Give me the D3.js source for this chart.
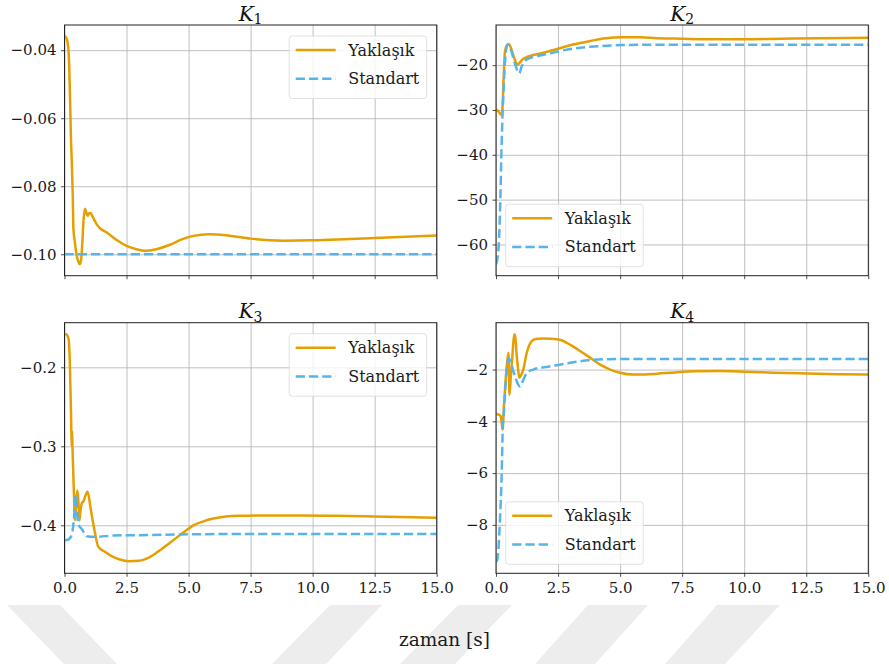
<!DOCTYPE html>
<html>
<head>
<meta charset="utf-8">
<script src="https://cdn.jsdelivr.net/npm/d3@7"></script>
<style>
  body { margin: 0; background: #fff; }
  svg { display: block; font-family: "DejaVu Serif", "Liberation Serif", serif; }
  .grid line { stroke: #b0b0b0; stroke-width: 0.8; }
  .grid path { display: none; }
  .axis path { display: none; }
  .axis line { stroke: #222; stroke-width: 0.8; }
  .axis text { font-size: 15px; fill: #1a1a1a; font-family: "DejaVu Serif", serif; }
  .frame { fill: none; stroke: #222; stroke-width: 1; }
</style>
</head>
<body>
<svg id="chart" width="889" height="664"></svg>
<script>
// shared x ticks (time in seconds)
const xTicks = [0, 2.5, 5, 7.5, 10, 12.5, 15]
const seriesNames = ["Yaklaşık", "Standart"]
const colors = ["#E69F00", "#56B4E9"]

// K1
const k1ApproxT = [0, 0.08, 0.15, 0.19, 0.23, 0.26, 0.29, 0.33, 0.36, 0.42, 0.49, 0.56, 0.62, 0.67, 0.72, 0.77, 0.83, 0.88, 0.93, 0.99, 1.05, 1.15, 1.3, 1.45, 1.7, 2.1, 2.5, 2.9, 3.3, 3.7, 4.25, 4.7, 5.2, 5.8, 6.5, 7.5, 8.8, 10.0, 11.5, 13.0, 15]
const k1Approx = [-0.0358, -0.0365, -0.039, -0.0448, -0.056, -0.066, -0.0721, -0.082, -0.0926, -0.0965, -0.1004, -0.1022, -0.1029, -0.1015, -0.0965, -0.0897, -0.0866, -0.0878, -0.0887, -0.088, -0.0879, -0.0892, -0.0912, -0.0925, -0.0936, -0.0958, -0.0975, -0.0985, -0.099, -0.0985, -0.0972, -0.0957, -0.0946, -0.0941, -0.0944, -0.0954, -0.096, -0.0959, -0.0955, -0.0951, -0.0945]
const k1StdT = [0, 5, 10, 15]
const k1Std = [-0.1, -0.1, -0.1, -0.1]
const k1Ticks = [-0.10, -0.08, -0.06, -0.04]

// K2
const k2ApproxT = [0, 0.1, 0.2, 0.25, 0.3, 0.36, 0.43, 0.5, 0.56, 0.63, 0.72, 0.8, 0.88, 0.95, 1.05, 1.2, 1.4, 1.8, 2.45, 3.1, 3.8, 4.4, 5.1, 5.8, 6.5, 7.5, 8.5, 10, 11.5, 13, 15]
const k2Approx = [-29.9, -30.3, -31.0, -30.5, -24, -17, -15.6, -15.3, -15.6, -16.6, -18.2, -19.3, -19.9, -19.5, -18.8, -18.3, -17.9, -17.4, -16.4, -15.4, -14.6, -14.0, -13.8, -13.8, -14.0, -14.1, -14.2, -14.2, -14.1, -14.0, -13.9]
const k2StdT = [0, 0.09, 0.16, 0.23, 0.3, 0.38, 0.46, 0.52, 0.6, 0.7, 0.8, 0.88, 0.94, 1.02, 1.12, 1.25, 1.5, 2.0, 2.45, 3.1, 3.8, 4.5, 5.1, 6, 8, 10, 12.5, 15]
const k2Std = [-64.4, -61.8, -53, -37, -26, -18.1, -15.6, -15.5, -16.5, -18.5, -20.3, -21.5, -21.8, -20.5, -19.4, -18.7, -18.2, -17.6, -17.0, -16.3, -15.9, -15.65, -15.5, -15.45, -15.45, -15.45, -15.45, -15.45]
const k2Ticks = [-60, -50, -40, -30, -20]

// K3
const k3ApproxT = [0, 0.06, 0.12, 0.17, 0.22, 0.27, 0.29, 0.3, 0.32, 0.38, 0.42, 0.47, 0.52, 0.56, 0.6, 0.65, 0.7, 0.76, 0.85, 0.92, 0.97, 1.05, 1.2, 1.36, 1.6, 1.9, 2.2, 2.6, 3.0, 3.4, 3.85, 4.3, 4.75, 5.2, 5.6, 6.0, 6.5, 7.0, 8.0, 9.5, 11, 12.5, 15]
const k3Approx = [-0.158, -0.158, -0.16, -0.165, -0.2, -0.27, -0.3, -0.28, -0.3, -0.36, -0.3935, -0.37, -0.356, -0.37, -0.394, -0.38, -0.372, -0.37, -0.362, -0.3577, -0.362, -0.378, -0.405, -0.427, -0.433, -0.439, -0.443, -0.4455, -0.445, -0.441, -0.4316, -0.421, -0.41, -0.4, -0.395, -0.3915, -0.389, -0.388, -0.3875, -0.3875, -0.388, -0.389, -0.3906]
const k3StdT = [0, 0.15, 0.25, 0.33, 0.4, 0.46, 0.5, 0.55, 0.62, 0.7, 0.8, 0.9, 1.05, 1.3, 2, 3, 5, 7.5, 10, 12.5, 15]
const k3Std = [-0.419, -0.418, -0.415, -0.406, -0.385, -0.362, -0.38, -0.398, -0.402, -0.405, -0.41, -0.414, -0.4145, -0.4145, -0.413, -0.4125, -0.4115, -0.411, -0.411, -0.411, -0.411]
const k3Ticks = [-0.4, -0.3, -0.2]

// K4
const k4ApproxT = [0, 0.1, 0.19, 0.27, 0.32, 0.36, 0.43, 0.5, 0.54, 0.6, 0.66, 0.73, 0.77, 0.82, 0.88, 0.94, 1.02, 1.1, 1.24, 1.44, 1.6, 1.9, 2.2, 2.6, 3.0, 3.4, 3.8, 4.2, 4.6, 5.0, 5.5, 6.0, 6.5, 7.2, 8.0, 9.0, 10, 11.2, 12.5, 13.8, 15]
const k4Approx = [-3.72, -3.74, -3.8, -4.32, -3.4, -2.8, -1.9, -1.35, -2.97, -2.24, -1.5, -0.65, -0.65, -1.3, -1.9, -2.32, -2.2, -2.0, -1.35, -0.9, -0.82, -0.8, -0.81, -0.86, -1.05, -1.29, -1.55, -1.81, -2.0, -2.12, -2.19, -2.19, -2.16, -2.11, -2.07, -2.06, -2.08, -2.12, -2.15, -2.18, -2.19]
const k4StdT = [0, 0.05, 0.1, 0.16, 0.23, 0.27, 0.32, 0.36, 0.43, 0.5, 0.54, 0.6, 0.68, 0.78, 0.88, 0.97, 1.1, 1.24, 1.5, 2.0, 2.45, 3.1, 3.8, 4.5, 5.13, 6, 8, 10, 12.5, 15]
const k4Std = [-9.42, -9.35, -8.9, -7.8, -6.0, -4.32, -3.6, -3.0, -2.0, -1.6, -1.59, -1.7, -2.0, -2.3, -2.55, -2.65, -2.4, -2.13, -2.0, -1.9, -1.83, -1.72, -1.63, -1.6, -1.59, -1.59, -1.59, -1.59, -1.59, -1.59]
const k4Ticks = [-8, -6, -4, -2]

const zip = (t, v) => t.map((x, i) => [x, v[i]])

const panels = [
  { sub: "1", box: [64.5, 25, 436.7, 275.7], yDomain: [-0.1063, -0.0326], yTicks: k1Ticks, fmt: ".2f",
    series: [zip(k1ApproxT, k1Approx), zip(k1StdT, k1Std)], legend: "ur", xLabels: false },
  { sub: "2", box: [496, 25, 868.3, 275.7], yDomain: [-66.97, -11.04], yTicks: k2Ticks, fmt: ".0f",
    series: [zip(k2ApproxT, k2Approx), zip(k2StdT, k2Std)], legend: "ll", xLabels: false },
  { sub: "3", box: [64.5, 322.7, 436.7, 573.3], yDomain: [-0.4608, -0.1435], yTicks: k3Ticks, fmt: ".1f",
    series: [zip(k3ApproxT, k3Approx), zip(k3StdT, k3Std)], legend: "ur", xLabels: true },
  { sub: "4", box: [496, 322.7, 868.3, 573.3], yDomain: [-9.87, -0.19], yTicks: k4Ticks, fmt: ".0f",
    series: [zip(k4ApproxT, k4Approx), zip(k4StdT, k4Std)], legend: "ll", xLabels: true }
]

const svg = d3.select("#chart")

// faint watermark strokes at the bottom of the page
const marks = [
  [[7, 605], [60, 605], [117, 664], [64, 664]],
  [[330, 605], [382, 605], [326, 664], [272, 664]],
  [[458, 605], [512, 605], [455, 664], [400, 664]],
  [[588, 605], [648, 605], [595, 664], [535, 664]],
  [[717, 605], [780, 605], [725, 664], [665, 664]]
]
svg.append("g").selectAll("path").data(marks).join("path")
  .attr("d", (d) => "M" + d.join("L") + "Z")
  .attr("fill", "#ededed")

panels.forEach((p, pi) => {
  const [x0, y0, x1, y1] = p.box
  const w = x1 - x0, h = y1 - y0
  const x = d3.scaleLinear().domain([0, 15]).range([0, w])
  const y = d3.scaleLinear().domain(p.yDomain).range([h, 0])
  const g = svg.append("g").attr("transform", `translate(${x0},${y0})`)

  g.append("g").attr("class", "grid")
    .call(d3.axisBottom(x).tickValues(xTicks).tickSize(h).tickFormat(""))
  g.append("g").attr("class", "grid")
    .call(d3.axisLeft(y).tickValues(p.yTicks).tickSize(-w).tickFormat(""))

  const clipId = "clip" + pi
  g.append("clipPath").attr("id", clipId)
    .append("rect").attr("width", w).attr("height", h)

  const line = d3.line().x((d) => x(d[0])).y((d) => y(d[1])).curve(d3.curveMonotoneX)
  p.series.forEach((s, si) => {
    g.append("path")
      .attr("clip-path", `url(#${clipId})`)
      .attr("d", line(s))
      .attr("fill", "none")
      .attr("stroke", colors[si])
      .attr("stroke-width", 2.5)
      .attr("stroke-linejoin", "round")
      .attr("stroke-dasharray", si === 1 ? "9.25,4" : null)
  })

  g.append("rect").attr("class", "frame").attr("width", w).attr("height", h)

  const xa = g.append("g").attr("class", "axis").attr("transform", `translate(0,${h})`)
    .call(d3.axisBottom(x).tickValues(xTicks).tickSize(3.5).tickPadding(5)
      .tickFormat(p.xLabels ? d3.format(".1f") : ""))
  xa.selectAll("text").attr("dy", "0.78em")
  g.append("g").attr("class", "axis")
    .call(d3.axisLeft(y).tickValues(p.yTicks).tickSize(3.5).tickPadding(4.5).tickFormat(d3.format(p.fmt)))

  // title K_n
  const t = g.append("text").attr("x", w / 2).attr("y", -4.5).attr("text-anchor", "middle")
    .attr("font-size", 20).attr("fill", "#111")
  t.append("tspan").attr("font-style", "italic").text("K")
  t.append("tspan").attr("font-size", 14).attr("dy", 3.5).text(p.sub)

  // legend
  const lw = 137.5, lh = 62.5
  const lx = p.legend === "ur" ? w - 10 - lw : 9.7
  const ly = p.legend === "ur" ? 11 : h - 9 - lh
  const lg = g.append("g").attr("transform", `translate(${lx},${ly})`)
  lg.append("rect").attr("width", lw).attr("height", lh).attr("rx", 3)
    .attr("fill", "#fff").attr("fill-opacity", 0.8).attr("stroke", "#d9d9d9").attr("stroke-width", 0.8)
  seriesNames.forEach((name, i) => {
    const yy = 14 + i * 28.7
    lg.append("line").attr("x1", 6.5).attr("x2", 46.5).attr("y1", yy).attr("y2", yy)
      .attr("stroke", colors[i]).attr("stroke-width", 2.5)
      .attr("stroke-dasharray", i === 1 ? "9.25,4" : null)
    lg.append("text").attr("x", 59).attr("y", yy).attr("dy", "0.35em")
      .attr("font-size", 16).attr("fill", "#1a1a1a").text(name)
  })
})

svg.append("text").attr("x", 444.5).attr("y", 646).attr("text-anchor", "middle")
  .attr("font-size", 18.5).attr("fill", "#1a1a1a").text("zaman [s]")
</script>
</body>
</html>
